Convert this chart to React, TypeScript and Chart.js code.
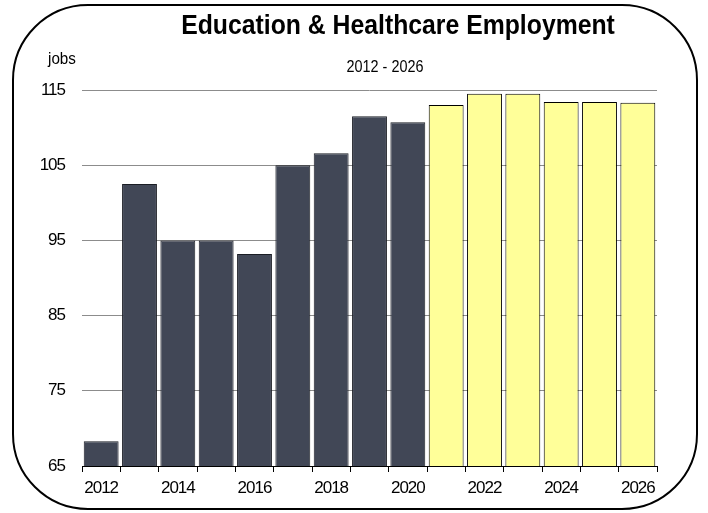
import React, { useEffect, useRef } from "react";
import { Chart, registerables } from "chart.js";

Chart.register(...registerables);

const years = ["2012","2013","2014","2015","2016","2017","2018","2019","2020","2021","2022","2023","2024","2025","2026"];
const historical = [68.3, 102.5, 95.0, 95.0, 93.2, 105.0, 106.6, 111.5, 110.7];
const projected = [113.0, 114.5, 114.5, 113.4, 113.4, 113.3];
const yTicks = [65, 75, 85, 95, 105, 115];

const titleText = "Education & Healthcare Employment";
const subtitleText = "2012 - 2026";
const unitText = "jobs";

const FONT = "'Liberation Sans Narrow', 'Arial Narrow', 'Liberation Sans', Arial, sans-serif";

function narrowText(ctx: any, text: string, x: number, y: number, sx: number, align: string) {
  ctx.save();
  ctx.translate(x, y);
  ctx.scale(sx, 1);
  ctx.textAlign = align;
  ctx.fillText(text, 0, 0);
  ctx.restore();
}

const decorPlugin = {
  id: "decor",
  beforeDraw(chart: any) {
    const ctx = chart.ctx;
    ctx.save();
    ctx.fillStyle = "#ffffff";
    ctx.fillRect(0, 0, chart.width, chart.height);
    ctx.beginPath();
    (ctx as any).roundRect(13, 5, 684, 504, 75);
    ctx.lineWidth = 2;
    ctx.strokeStyle = "#000000";
    ctx.stroke();
    ctx.fillStyle = "#000000";
    ctx.textBaseline = "alphabetic";
    ctx.font = `bold 28px ${FONT}`;
    narrowText(ctx, titleText, 398, 34, 0.885, "center");
    ctx.font = `16px ${FONT}`;
    narrowText(ctx, subtitleText, 385, 72, 0.9, "center");
    narrowText(ctx, unitText, 48, 64, 0.95, "left");
    ctx.restore();
    // condensed look for the axis tick labels drawn by Chart.js
    (ctx as any).letterSpacing = "-1px";
  },
  afterDraw(chart: any) {
    (chart.ctx as any).letterSpacing = "0px";
  },
};

export default function App() {
  const ref = useRef<HTMLCanvasElement | null>(null);
  useEffect(() => {
    if (!ref.current) return;
    const values = [...historical, ...projected];
    const colors = values.map((_, i) => (i < historical.length ? "#414756" : "#FFFF99"));
    const borders = values.map((_, i) => (i < historical.length ? "#1a1d24" : "#000000"));
    const chart = new Chart(ref.current, {
      type: "bar",
      data: {
        labels: years,
        datasets: [
          {
            data: values,
            backgroundColor: colors,
            borderColor: borders,
            borderWidth: 1,
            barPercentage: 0.91,
            categoryPercentage: 1,
          },
        ],
      },
      options: {
        animation: false,
        responsive: false,
        devicePixelRatio: 1,
        layout: { padding: { top: 90, left: 0, right: 51, bottom: 0 } },
        plugins: { legend: { display: false }, title: { display: false }, tooltip: { enabled: false } },
        scales: {
          x: {
            grid: { offset: true, drawOnChartArea: false, drawTicks: true, tickLength: 6, color: "#000000" },
            border: { display: true, color: "#000000", width: 1 },
            ticks: {
              autoSkip: false,
              maxRotation: 0,
              padding: 6,
              color: "#000000",
              font: { family: FONT, size: 17 },
              callback: (_v: any, i: number) => (i % 2 === 0 ? years[i] : ""),
            },
            afterFit: (s: any) => { s.height = 47; },
          },
          y: {
            min: 65,
            max: 115,
            afterBuildTicks: (s: any) => { s.ticks = yTicks.map((v) => ({ value: v })); },
            grid: { drawTicks: false, color: "#8c8c8c", lineWidth: 1 },
            border: { display: false },
            ticks: { padding: 17, color: "#000000", font: { family: FONT, size: 17 } },
            afterFit: (s: any) => { s.width = 82; },
          },
        },
      },
      plugins: [decorPlugin],
    });
    return () => chart.destroy();
  }, []);
  return (
    <div style={{ position: "fixed", left: 0, top: 0, width: 708, height: 513 }}>
      <canvas ref={ref} width={708} height={513} style={{ width: 708, height: 513, display: "block" }} />
    </div>
  );
}
